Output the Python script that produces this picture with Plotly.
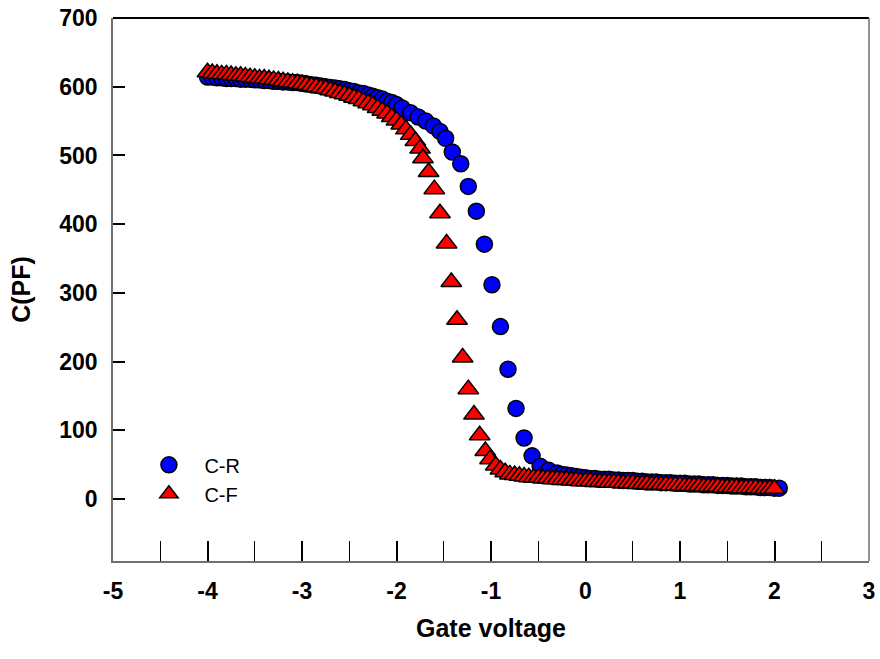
import plotly.graph_objects as go

# ---- data ----
cr_v = [-4.00,-3.95,-3.90,-3.85,-3.80,-3.75,-3.70,-3.65,-3.60,-3.55,-3.50,-3.45,-3.40,-3.35,-3.30,-3.25,-3.20,-3.15,-3.10,-3.05,
        -3.00,-2.95,-2.90,-2.85,-2.80,-2.75,-2.70,-2.65,-2.60,-2.55,-2.50,-2.45,-2.40,-2.35,-2.30,-2.25,-2.20,-2.15,-2.10,-2.05,-2.00,
        -1.94,-1.85,-1.77,-1.69,-1.61,-1.54,-1.48,-1.41,-1.32,-1.24,-1.155,-1.07,-0.99,-0.90,-0.82,-0.735,-0.65,-0.565,-0.48,-0.39,-0.30,
        -0.25,-0.20,-0.15,-0.10,-0.05,0.00,
        0.05,0.10,0.15,0.20,0.25,0.30,0.35,0.40,0.45,0.50,0.55,0.60,0.65,0.70,0.75,0.80,0.85,0.90,0.95,1.00,
        1.05,1.10,1.15,1.20,1.25,1.30,1.35,1.40,1.45,1.50,1.55,1.60,1.65,1.70,1.75,1.80,1.85,1.90,1.95,2.00,2.05]
cr_c = [614,614,613,613,612,612,612,611,611,611,610,610,609,609,608,608,607,607,606,606,
        605,604,603,602,601,600,599,598,597,596,594,593,591,590,588,586,584,582,579,577,574,
        569,562,556,550,543,535,525,505,488,455,419,371,312,251,189,132,89,63,48,42,38,
        36,35,34,33,32,31,
        30,30,29,29,29,28,28,27,27,27,26,26,25,25,25,24,24,24,23,23,
        23,22,22,22,21,21,21,20,20,20,19,19,19,18,18,18,17,17,17,16,16]

cf_v = [-4.00,-3.95,-3.90,-3.85,-3.80,-3.75,-3.70,-3.65,-3.60,-3.55,-3.50,-3.45,-3.40,-3.35,-3.30,-3.25,-3.20,-3.15,-3.10,-3.05,
        -3.00,-2.95,-2.90,-2.85,-2.80,-2.75,-2.70,-2.65,-2.60,-2.55,-2.50,-2.45,-2.40,-2.35,-2.30,-2.25,-2.20,-2.15,-2.10,-2.05,
        -2.00,-1.95,-1.90,-1.85,-1.80,-1.75,
        -1.72,-1.66,-1.60,-1.54,-1.47,-1.42,-1.36,-1.30,-1.24,-1.18,-1.12,-1.06,-1.01,
        -0.95,-0.90,-0.85,-0.80,-0.75,-0.70,-0.65,-0.60,-0.55,-0.50,-0.45,-0.40,-0.35,-0.30,-0.25,-0.20,-0.15,-0.10,-0.05,0.00,
        0.05,0.10,0.15,0.20,0.25,0.30,0.35,0.40,0.45,0.50,0.55,0.60,0.65,0.70,0.75,0.80,0.85,0.90,0.95,1.00,
        1.05,1.10,1.15,1.20,1.25,1.30,1.35,1.40,1.45,1.50,1.55,1.60,1.65,1.70,1.75,1.80,1.85,1.90,1.95,2.00]
cf_c = [621,620,619,618,618,617,616,616,615,614,613,612,612,611,610,609,608,607,606,605,
        604,603,601,600,598,597,595,593,591,589,587,584,582,579,576,573,569,565,561,556,
        551,545,538,530,521,510,
        496,476,451,416,372,316,261,206,160,123,93,70,58,
        49,43,39,36,35,34,33,32,31,31,30,30,29,29,28,28,27,27,26,26,
        26,25,25,25,24,24,24,23,23,23,22,22,22,21,21,21,21,20,20,20,
        19,19,19,19,18,18,18,18,17,17,17,17,16,16,16,16,15,15,15,15]

x_ticks = [-5, -4, -3, -2, -1, 0, 1, 2, 3]
y_ticks = [0, 100, 200, 300, 400, 500, 600, 700]

FONT = "Liberation Sans, Arial, Helvetica, sans-serif"
GREY = "#707070"

fig = go.Figure()
fig.add_trace(go.Scatter(
    x=cr_v, y=cr_c, mode="markers", name="C-R",
    marker=dict(symbol="circle", size=16, color="#0000FF",
                line=dict(color="black", width=1.5)),
))
fig.add_trace(go.Scatter(
    x=cf_v, y=cf_c, mode="markers", name="C-F",
    marker=dict(symbol="triangle-up", size=18, color="#FF0000",
                line=dict(color="black", width=1.5)),
))

fig.update_layout(
    width=880, height=659,
    margin=dict(l=113, r=11, t=18, b=98),
    paper_bgcolor="white", plot_bgcolor="white",
    font=dict(family=FONT, color="black"),
    showlegend=True,
    legend=dict(x=0.027, y=0.213, xanchor="left", yanchor="top",
                bgcolor="rgba(0,0,0,0)", borderwidth=0,
                font=dict(family=FONT, size=20, color="black"),
                itemwidth=61, tracegroupgap=0),
    xaxis=dict(
        range=[-5, 3], tickmode="array", tickvals=x_ticks,
        ticktext=[str(v) for v in x_ticks],
        ticks="inside", ticklen=20, tickwidth=2, tickcolor="black",
        minor=dict(dtick=0.5, tick0=-5, ticks="inside", ticklen=20, tickwidth=1, tickcolor="black"),
        showline=True, linecolor=GREY, linewidth=1.5,
        showgrid=False, zeroline=False, automargin=False,
        tickfont=dict(family=FONT, size=23, color="black", weight="bold"),
        ticklabelstandoff=9,
        title=dict(text="Gate voltage", standoff=16,
                   font=dict(family=FONT, size=25, color="black", weight="bold")),
    ),
    yaxis=dict(
        range=[-90, 700], tickmode="array", tickvals=y_ticks,
        ticktext=[str(v) for v in y_ticks],
        ticks="inside", ticklen=12, tickwidth=1.5, tickcolor="black",
        showline=True, linecolor=GREY, linewidth=1.5,
        showgrid=False, zeroline=False, automargin=False,
        tickfont=dict(family=FONT, size=23, color="black", weight="bold"),
        ticklabelstandoff=9,
        title=dict(text="C(PF)", standoff=22,
                   font=dict(family=FONT, size=25, color="black", weight="bold")),
    ),
    shapes=[
        dict(type="line", xref="paper", yref="paper", x0=0, x1=1, y0=1, y1=1,
             line=dict(color="black", width=2)),
        dict(type="line", xref="paper", yref="paper", x0=1, x1=1, y0=0, y1=1,
             line=dict(color=GREY, width=1.5)),
    ],
)

fig.write_html("out.html", config={"displayModeBar": False},
               post_script="document.body.style.margin='0';")
